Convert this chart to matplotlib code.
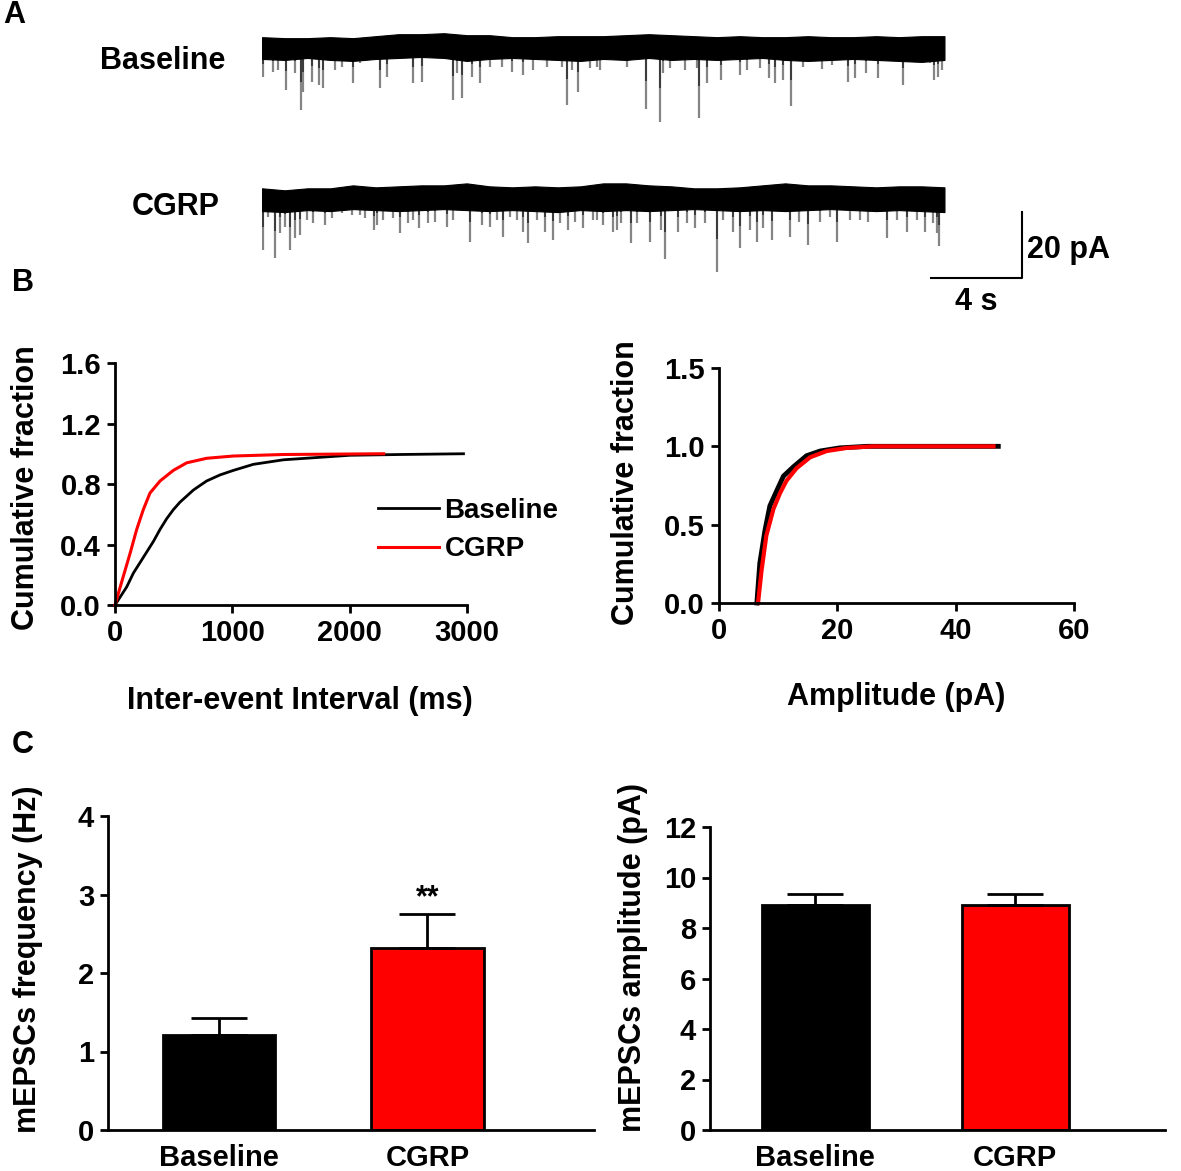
import matplotlib.pyplot as plt
import numpy as np

plt.rcParams['font.family'] = ['Liberation Sans', 'DejaVu Sans']
plt.rcParams['font.weight'] = 'bold'
plt.rcParams['axes.labelweight'] = 'bold'

W, H = 1181, 1171
RED = '#fe0000'

# ---------------- A: example traces (s, pA) ----------------
env_t = [0, 1, 2, 3, 4, 5, 6, 7, 8, 9, 10, 11, 12, 13, 14, 15,
         16, 17, 18, 19, 20, 21, 22, 23, 24, 25, 26, 27, 28, 29, 30]
base_upper = [3.0, 2.7, 2.7, 3.0, 2.7, 3.3, 3.9, 3.9, 4.2, 3.6, 3.6, 3.0, 3.0, 3.3, 3.3, 3.3,
              3.6, 3.9, 3.6, 3.3, 3.0, 3.3, 3.0, 3.0, 3.3, 3.0, 3.0, 3.3, 3.0, 3.3, 3.3]
base_lower = [-3.6, -3.9, -3.3, -3.9, -4.2, -3.6, -3.3, -3.0, -3.3, -4.2, -3.6, -3.3, -3.6, -3.9, -4.2, -3.6,
              -3.9, -3.3, -3.9, -3.6, -3.9, -3.6, -3.3, -3.9, -4.2, -3.9, -3.6, -3.9, -4.2, -4.5, -3.9]
cgrp_upper = [3.0, 2.4, 3.0, 3.0, 3.9, 3.3, 3.6, 3.9, 3.9, 4.5, 3.6, 3.3, 3.6, 3.3, 3.6, 4.5,
              4.5, 3.9, 3.6, 3.0, 3.0, 3.3, 3.9, 4.5, 3.9, 3.9, 3.6, 3.3, 3.6, 3.6, 3.3]
cgrp_lower = [-3.9, -4.2, -3.6, -3.9, -3.3, -3.6, -3.9, -3.6, -3.3, -3.6, -3.9, -3.6, -3.9, -4.2, -3.6, -3.9,
              -3.6, -3.9, -3.6, -3.3, -3.6, -3.9, -3.6, -3.9, -3.6, -3.3, -3.6, -3.9, -3.6, -3.9, -4.2]

base_ev_t = [0.04, 0.48, 0.70, 1.05, 1.45, 1.71, 1.80, 2.20, 2.51, 2.68, 3.21, 3.52, 4.00, 4.31,
             5.19, 5.49, 6.64, 7.03, 8.40, 8.57, 8.79, 9.23, 9.58, 10.02, 10.55, 10.99, 11.47,
             11.91, 12.53, 13.19, 13.41, 13.63, 13.89, 14.42, 14.73, 14.86, 16.04, 16.88, 17.49,
             17.63, 17.93, 18.59, 19.12, 19.21, 19.56, 20.18, 21.01, 21.32, 21.89, 22.29, 22.55,
             22.90, 23.25, 23.78, 24.62, 25.05, 25.76, 26.07, 26.55, 27.08, 28.18, 29.36, 29.54,
             29.71, 29.89]
base_ev_amp = [-9.1, -7.6, -7.0, -13.0, -7.9, -19.1, -13.6, -10.6, -11.5, -12.4, -7.0, -6.1, -10.9, -4.8,
               -12.4, -9.1, -10.9, -10.6, -16.1, -7.9, -15.5, -9.1, -10.9, -6.1, -6.1, -7.6, -8.5,
               -7.0, -6.1, -6.1, -17.6, -7.0, -13.6, -6.4, -6.1, -7.0, -6.1, -18.8, -22.7,
               -7.9, -6.4, -7.0, -6.4, -21.5, -10.9, -10.0, -8.5, -7.0, -6.4, -9.4, -10.9,
               -10.0, -17.9, -6.1, -6.7, -5.5, -10.6, -9.4, -7.9, -9.4, -11.5, -4.8, -10.0,
               -9.1, -7.0]
cgrp_ev_t = [0.04, 0.26, 0.57, 0.79, 1.01, 1.23, 1.45, 1.67, 1.98, 2.24, 2.77, 3.08, 3.52, 3.96,
             4.31, 4.53, 4.92, 5.05, 5.32, 5.76, 6.07, 6.42, 6.64, 6.90, 7.30, 7.60, 8.13, 8.40,
             9.14, 9.67, 10.02, 10.33, 10.59, 10.90, 11.21, 11.47, 11.69, 12.09, 12.44, 12.79,
             13.10, 13.45, 13.76, 14.11, 14.55, 14.73, 14.99, 15.43, 15.60, 15.78, 16.22, 16.48,
             17.05, 17.54, 17.71, 18.29, 18.68, 19.03, 19.47, 20.00, 20.26, 20.70, 21.01, 21.45,
             21.76, 22.02, 22.42, 23.21, 23.60, 24.00, 24.53, 24.97, 25.27, 25.85, 26.29, 26.64,
             27.47, 27.91, 28.35, 28.79, 29.14, 29.49, 29.67, 29.76]
cgrp_ev_amp = [-15.8, -5.8, -18.2, -10.6, -8.8, -15.8, -12.1, -11.2, -6.7, -7.6, -8.2, -6.1, -4.5, -5.2,
               -5.2, -6.1, -9.7, -8.2, -6.7, -6.1, -10.6, -7.6, -6.7, -9.1, -7.6, -7.3, -8.8, -6.7,
               -13.3, -8.2, -8.8, -6.7, -11.8, -5.8, -6.7, -10.3, -13.6, -6.7, -10.3, -12.7,
               -7.6, -9.7, -7.3, -9.1, -6.7, -6.7, -8.2, -10.3, -9.7, -7.6, -13.6, -7.6,
               -13.3, -9.7, -18.5, -10.3, -7.6, -9.1, -7.6, -22.4, -6.7, -10.3, -15.2, -9.7,
               -13.3, -9.1, -12.7, -11.8, -7.3, -14.2, -7.3, -5.8, -13.3, -6.7, -6.7, -7.3,
               -12.1, -6.7, -10.3, -6.7, -10.3, -7.6, -10.6, -14.5]

scale_t = 4    # s
scale_i = 20   # pA

# ---------------- B: cumulative distributions ----------------
iei_base_x = [0, 50, 100, 156, 213, 270, 327, 384, 440, 497, 554, 611, 668, 724, 781,
              895, 1009, 1179, 1435, 1719, 2003, 2429, 2970]
iei_base_y = [0, 0.06, 0.12, 0.21, 0.28, 0.35, 0.42, 0.50, 0.57, 0.63, 0.68, 0.72, 0.76, 0.79, 0.82,
              0.86, 0.89, 0.93, 0.96, 0.975, 0.99, 0.995, 1.0]
iei_cgrp_x = [0, 71, 128, 185, 241, 298, 384, 497, 611, 781, 1009, 1435, 2290]
iei_cgrp_y = [0, 0.19, 0.34, 0.50, 0.63, 0.74, 0.82, 0.89, 0.94, 0.97, 0.985, 0.995, 1.0]

amp_base_x = [6.4, 6.9, 7.8, 8.6, 9.8, 10.9, 12.6, 14.8, 17.1, 20.4, 25.0, 47.2]
amp_base_y = [0, 0.255, 0.47, 0.62, 0.72, 0.81, 0.87, 0.94, 0.97, 0.99, 1.0, 1.0]
amp_cgrp_x = [6.6, 7.2, 8.0, 9.2, 10.3, 11.4, 13.1, 15.4, 18.2, 21.6, 26.1, 46.4]
amp_cgrp_y = [0, 0.21, 0.43, 0.60, 0.70, 0.78, 0.86, 0.93, 0.97, 0.99, 1.0, 1.0]

# ---------------- C: summary bars ----------------
groups = ['Baseline', 'CGRP']
freq_mean = [1.21, 2.32]
freq_sem = [0.22, 0.43]
ampl_mean = [8.93, 8.93]
ampl_sem = [0.41, 0.41]

fig = plt.figure(figsize=(W / 100, H / 100), dpi=100)


def add_ax(l, t, r, b):
    return fig.add_axes([l / W, 1 - b / H, (r - l) / W, (b - t) / H])


def ftext(x, y, s, **kw):
    fig.text(x / W, 1 - y / H, s, **kw)


def style(ax):
    for s in ['top', 'right']:
        ax.spines[s].set_visible(False)
    for s in ['left', 'bottom']:
        ax.spines[s].set_linewidth(2)
    ax.tick_params(width=2, length=6, labelsize=21, pad=4)


# panel A
axA = add_ax(262, 20, 1040, 320)
axA.set_xlim(0, 34.2)
axA.set_ylim(-82.7, 8.2)
axA.axis('off')
for off, upper, lower, ev_t, ev_amp in [(0, base_upper, base_lower, base_ev_t, base_ev_amp),
                                        (-45.8, cgrp_upper, cgrp_lower, cgrp_ev_t, cgrp_ev_amp)]:
    amp = off + np.array(ev_amp)
    # events: grey tails, darker near the noise band
    axA.vlines(ev_t, amp, off - 1, colors='#858585', lw=1.6, zorder=1)
    axA.vlines(ev_t, off + 0.55 * np.array(ev_amp), off - 1, colors='#3a3a3a', lw=1.4, zorder=1.5)
    axA.fill_between(env_t, off + np.array(lower), off + np.array(upper),
                     color='black', lw=0.8, zorder=3)
bar_t1 = 33.4
bar_i0 = -70
axA.plot([bar_t1 - scale_t, bar_t1, bar_t1], [bar_i0, bar_i0, bar_i0 + scale_i],
         color='black', lw=1.5, clip_on=False)
axA.text(bar_t1 + 0.25, bar_i0 + scale_i * 0.43, '%d pA' % scale_i, fontsize=22,
         ha='left', va='center')
axA.text(bar_t1 - scale_t / 2, bar_i0 - 7.3, '%d s' % scale_t, fontsize=22,
         ha='center', va='center')
ftext(163, 61, 'Baseline', fontsize=22, ha='center', va='center')
ftext(176, 207, 'CGRP', fontsize=22, ha='center', va='center')

# panel B
ax1 = add_ax(115, 363, 467, 605)
style(ax1)
ax1.plot(iei_base_x, iei_base_y, color='black', lw=2, clip_on=False, label='Baseline')
ax1.plot(iei_cgrp_x, iei_cgrp_y, color=RED, lw=2.2, clip_on=False, label='CGRP')
ax1.set_xlim(0, 3000)
ax1.set_ylim(0, 1.6)
ax1.set_xticks([0, 1000, 2000, 3000])
yt = [0, 0.4, 0.8, 1.2, 1.6]
ax1.set_yticks(yt)
ax1.set_yticklabels(['%.1f' % v for v in yt])
ax1.legend(loc='center left', bbox_to_anchor=(0.747, 0.31), frameon=False, fontsize=20,
           handlelength=2.2, handletextpad=0.2, borderpad=0, borderaxespad=0, labelspacing=0.45)

ax2 = add_ax(719, 368, 1074, 603)
style(ax2)
ax2.plot(amp_base_x, amp_base_y, color='black', lw=3.5, clip_on=False)
ax2.plot(amp_cgrp_x, amp_cgrp_y, color=RED, lw=3, clip_on=False)
ax2.set_xlim(0, 60)
ax2.set_ylim(0, 1.5)
ax2.set_xticks([0, 20, 40, 60])
yt = [0, 0.5, 1.0, 1.5]
ax2.set_yticks(yt)
ax2.set_yticklabels(['%.1f' % v for v in yt])

ftext(26, 488, 'Cumulative fraction', fontsize=22, rotation=90, ha='center', va='center')
ftext(626, 483, 'Cumulative fraction', fontsize=22, rotation=90, ha='center', va='center')
ftext(300, 701, 'Inter-event Interval (ms)', fontsize=22, ha='center', va='center')
ftext(896, 697, 'Amplitude (pA)', fontsize=22, ha='center', va='center')

# panel C
x = [0, 1]
ax3 = add_ax(108, 816, 594, 1130)
style(ax3)
ax3.bar(x, freq_mean, width=0.54, color=['black', RED], edgecolor='black', lw=2)
ax3.errorbar(x, freq_mean, yerr=[[0, 0], freq_sem], fmt='none', ecolor='black',
             elinewidth=2, capsize=20, capthick=2)
ax3.text(1, freq_mean[1] + freq_sem[1] + 0.2, '**', fontsize=22, ha='center', va='center')
ax3.set_xlim(-0.534, 1.80)
ax3.set_ylim(0, 4)
ax3.set_yticks([0, 1, 2, 3, 4])
ax3.set_xticks(x)
ax3.set_xticklabels(groups)
ax3.tick_params(axis='x', length=0, pad=10)

ax4 = add_ax(710, 827, 1165, 1130)
style(ax4)
ax4.bar(x, ampl_mean, width=0.535, color=['black', RED], edgecolor='black', lw=2)
ax4.errorbar(x, ampl_mean, yerr=[[0, 0], ampl_sem], fmt='none', ecolor='black',
             elinewidth=2, capsize=20, capthick=2)
ax4.set_xlim(-0.525, 1.75)
ax4.set_ylim(0, 12)
ax4.set_yticks([0, 2, 4, 6, 8, 10, 12])
ax4.set_xticks(x)
ax4.set_xticklabels(groups)
ax4.tick_params(axis='x', length=0, pad=10)

ftext(28, 959, 'mEPSCs frequency (Hz)', fontsize=22, rotation=90, ha='center', va='center')
ftext(633, 957, 'mEPSCs amplitude (pA)', fontsize=22, rotation=90, ha='center', va='center')

ftext(14, 15, 'A', fontsize=22, ha='center', va='center')
ftext(23, 283, 'B', fontsize=22, ha='center', va='center')
ftext(23, 745, 'C', fontsize=22, ha='center', va='center')

fig.savefig('out.png', dpi=100)
